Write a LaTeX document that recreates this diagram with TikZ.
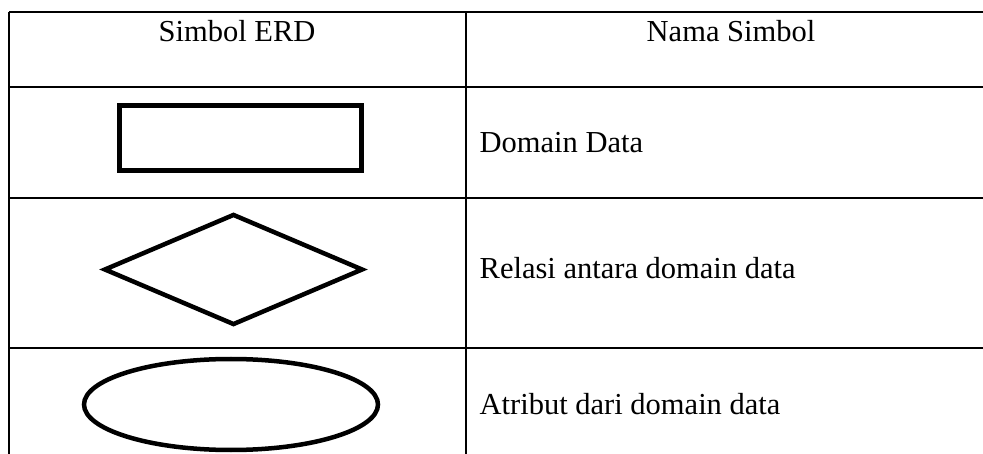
\documentclass[tikz,border=0pt]{standalone}
\usepackage{fontspec}
\setmainfont{Liberation Serif}
\usetikzlibrary{shapes.geometric}
\begin{document}
\begin{tikzpicture}[x=1pt,y=-1pt,
  grid/.style={line width=2pt,black},
  cell/.style={inner sep=0pt,font=\fontsize{30.5}{36}\selectfont},
  entbox/.style={draw,line width=5pt,inner sep=0pt,minimum width=242pt,minimum height=65pt},
  relbox/.style={draw,diamond,line width=4.5pt,inner sep=0pt,minimum width=259pt,minimum height=111pt},
  attbox/.style={draw,ellipse,line width=4.5pt,inner sep=0pt,minimum width=294pt,minimum height=91pt}]
\useasboundingbox (0,0) rectangle (983,454);
% table lines
\coordinate (tl) at (9,12);
\coordinate (tr) at (983,12);
\coordinate (h1l) at (9,87);
\coordinate (h1r) at (983,87);
\coordinate (h2l) at (9,198);
\coordinate (h2r) at (983,198);
\coordinate (h3l) at (9,348);
\coordinate (h3r) at (983,348);
\coordinate (bl) at (9,454);
\coordinate (dt) at (466,12);
\coordinate (db) at (466,454);
\draw[grid] (tl) -- (tr);
\draw[grid] (h1l) -- (h1r);
\draw[grid] (h2l) -- (h2r);
\draw[grid] (h3l) -- (h3r);
\draw[grid] (tl) -- (bl);
\draw[grid] (dt) -- (db);
% header
\node[cell,anchor=base] (hsym) at (237,42) {Simbol ERD};
\node[cell,anchor=base] (hname) at (731,42) {Nama Simbol};
% symbols
\node[entbox] (ent) at (240.5,138) {};
\node[relbox] (rel) at (233.5,269.5) {};
\node[attbox] (att) at (231,404.5) {};
% names
\node[cell,anchor=base west] (n1) at (479.5,153) {Domain Data};
\node[cell,anchor=base west] (n2) at (479.5,279) {Relasi antara domain data};
\node[cell,anchor=base west] (n3) at (479.5,414) {Atribut dari domain data};
\end{tikzpicture}
\end{document}
